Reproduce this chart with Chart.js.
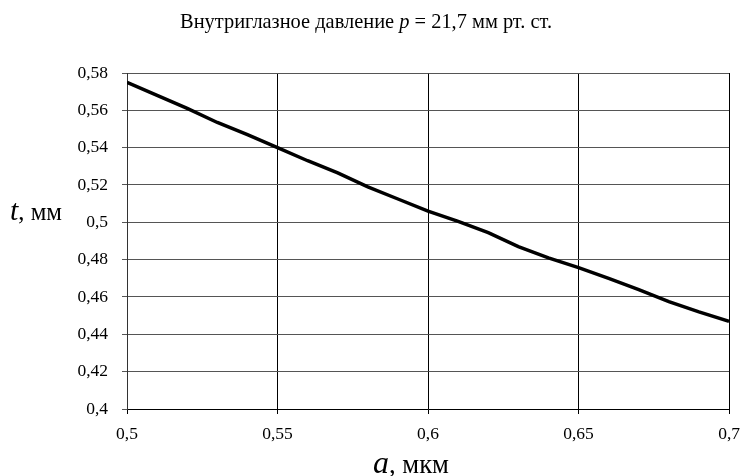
<!DOCTYPE html>
<html>
<head>
<meta charset="utf-8">
<script src="https://cdn.jsdelivr.net/npm/chart.js@4.4.1/dist/chart.umd.min.js"></script>
<style>
  html, body { margin: 0; padding: 0; background: #fff; }
  #wrap { width: 750px; height: 476px; position: relative; }
</style>
</head>
<body>
<div id="wrap"><canvas id="c" width="750" height="476"></canvas></div>
<script>
// ---- data ----
const aValues = [0.50, 0.51, 0.52, 0.53, 0.54, 0.55, 0.56, 0.57, 0.58, 0.59, 0.60,
                 0.61, 0.62, 0.63, 0.64, 0.65, 0.66, 0.67, 0.68, 0.69, 0.70];
const tValues = [0.575, 0.568, 0.561, 0.5535, 0.547, 0.540, 0.533, 0.5265, 0.519, 0.5125, 0.506,
                 0.5005, 0.4945, 0.487, 0.481, 0.4757, 0.470, 0.464, 0.4575, 0.452, 0.447];
const xTicks = [0.5, 0.55, 0.6, 0.65, 0.7];
const yTicks = [0.4, 0.42, 0.44, 0.46, 0.48, 0.5, 0.52, 0.54, 0.56, 0.58];

const titleParts = [["Внутриглазное давление ", "normal", 1], ["p", "italic", 1], [" = 21,7 мм рт. ст.", "normal", 1]];
const yTitleParts = [["t", "italic", 1.2], [", мм", "normal", 1]];
const xTitleParts = [["a", "italic", 1.2], [", мкм", "normal", 1]];

const SERIF = '"Liberation Serif", "Times New Roman", serif';
const fmt = v => Number(Number(v).toFixed(2)).toString().replace('.', ',');

// draws mixed-style text; base size chosen so total width equals targetW
function drawParts(ctx, parts, x, y, align, targetW) {
  const mk = (p, s) => `${p[1] === 'italic' ? 'italic ' : ''}${(s * p[2]).toFixed(2)}px ${SERIF}`;
  const measure = s => parts.map(p => { ctx.font = mk(p, s); return ctx.measureText(p[0]).width; });
  const w0 = measure(20).reduce((a, b) => a + b, 0);
  const size = 20 * targetW / w0;
  const widths = measure(size);
  const total = widths.reduce((a, b) => a + b, 0);
  let cx = align === 'center' ? x - total / 2 : x;
  ctx.textBaseline = 'alphabetic';
  ctx.textAlign = 'left';
  ctx.fillStyle = '#000';
  parts.forEach((p, i) => { ctx.font = mk(p, size); ctx.fillText(p[0], cx, y); cx += widths[i]; });
}

const textPlugin = {
  id: 'mixedText',
  afterDraw(chart) {
    const ctx = chart.ctx;
    ctx.save();
    drawParts(ctx, titleParts, 366, 28, 'center', 372);
    drawParts(ctx, yTitleParts, 10, 220, 'left', 52);
    drawParts(ctx, xTitleParts, 411, 473, 'center', 76);
    ctx.restore();
  }
};

new Chart(document.getElementById('c'), {
  type: 'line',
  data: {
    datasets: [{
      data: aValues.map((a, i) => ({ x: a, y: tValues[i] })),
      borderColor: '#000',
      borderWidth: 3.5,
      pointRadius: 0,
      tension: 0,
      fill: false
    }]
  },
  options: {
    responsive: false,
    animation: false,
    devicePixelRatio: 1,
    layout: { padding: { left: 0, right: 12, top: 73, bottom: 0 } },
    plugins: { legend: { display: false }, title: { display: false }, tooltip: { enabled: false } },
    scales: {
      x: {
        type: 'linear',
        min: 0.5, max: 0.7,
        afterBuildTicks: s => { s.ticks = xTicks.map(v => ({ value: v })); },
        afterFit: s => { s.height = 67; },
        grid: { color: '#000', lineWidth: 1, tickLength: 5, drawTicks: true },
        border: { color: '#000', width: 1 },
        ticks: { color: '#000', font: { family: SERIF, size: 17.5 }, padding: 10, maxRotation: 0, callback: fmt }
      },
      y: {
        type: 'linear',
        min: 0.4, max: 0.58,
        afterBuildTicks: s => { s.ticks = yTicks.map(v => ({ value: v })); },
        afterFit: s => { s.width = 127; },
        grid: { color: '#555', lineWidth: 1, tickLength: 5, drawTicks: true },
        border: { color: '#333', width: 1 },
        ticks: { color: '#000', font: { family: SERIF, size: 17.5 }, padding: 14, callback: fmt }
      }
    }
  },
  plugins: [textPlugin]
});
</script>
</body>
</html>
